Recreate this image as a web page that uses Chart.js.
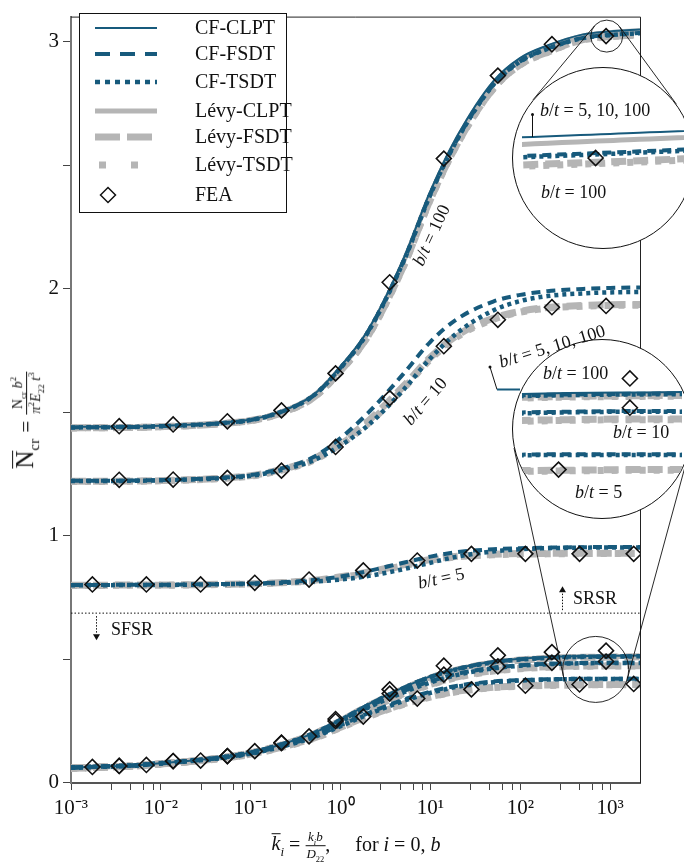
<!DOCTYPE html>
<html><head><meta charset="utf-8">
<script src="https://cdn.jsdelivr.net/npm/chart.js@4.4.0/dist/chart.umd.min.js"></script>
<style>
body{margin:0;width:684px;height:868px;overflow:hidden;background:#fff;position:relative;font-family:'Liberation Serif','Times New Roman',Times,serif;color:#111;}
#main{position:absolute;left:0;top:0;}
.inset{position:absolute;border:1px solid #111;border-radius:50%;overflow:hidden;background:#fff;z-index:1;}
.inset canvas{display:block;}
.t{position:absolute;white-space:nowrap;font-size:18px;line-height:1;z-index:2;}
.rot{transform:translate(-50%,-50%) rotate(var(--r));}
sub,sup{font-size:65%;line-height:0;}
.bar{display:inline-block;border-top:1.6px solid #111;line-height:0.85;padding-top:1px;}
.frac{display:inline-flex;flex-direction:column;vertical-align:middle;text-align:center;line-height:1.1;}
.frac .num{border-bottom:1px solid #111;padding:0 1px 1px;}
.frac .den{padding:1px 1px 0;}
</style>
</head><body>
<canvas id="main" width="684" height="868"></canvas>
<div id="inset1" class="inset" style="left:512px;top:67px;width:180px;height:180px;"><canvas id="c1" width="180" height="180"></canvas></div>
<div id="inset2" class="inset" style="left:512px;top:339px;width:178px;height:178px;"><canvas id="c2" width="178" height="178"></canvas></div>

<div class="t rot" style="left:431px;top:235px;--r:-65deg"><i>b</i>/<i>t</i> = 100</div>
<div class="t rot" style="left:425px;top:401px;--r:-49deg"><i>b</i>/<i>t</i> = 10</div>
<div class="t rot" style="left:441px;top:578px;--r:-12deg"><i>b</i>/<i>t</i> = 5</div>
<div class="t rot" style="left:552px;top:346px;--r:-17deg"><i>b</i>/<i>t</i> = 5, 10, 100</div>
<div class="t" style="left:111px;top:620px">SFSR</div>
<div class="t" style="left:573px;top:589px">SRSR</div>

<div class="t" style="left:540px;top:101px"><i>b</i>/<i>t</i> = 5, 10, 100</div>
<div class="t" style="left:541px;top:183px"><i>b</i>/<i>t</i> = 100</div>
<div class="t" style="left:543px;top:364px"><i>b</i>/<i>t</i> = 100</div>
<div class="t" style="left:613px;top:423px"><i>b</i>/<i>t</i> = 10</div>
<div class="t" style="left:575px;top:483px"><i>b</i>/<i>t</i> = 5</div>
<div style="position:absolute;left:531px;top:113px;width:3px;height:3px;border-radius:50%;background:#111;z-index:2"></div>
<div style="position:absolute;left:532px;top:114px;width:1px;height:23px;background:#111;z-index:2"></div>

<div class="t" style="left:27px;top:420px;transform:translate(-50%,-50%) rotate(-90deg);font-size:25px;">
<span class="bar">N</span><sub style="font-size:15px">cr</sub> <span style="font-size:21px">=</span> <span class="frac" style="font-size:14px"><span class="num">N<sub>cr</sub> <i>b</i><sup>2</sup></span><span class="den"><i>π</i><sup>2</sup><i>E</i><sub>22</sub> <i>t</i><sup>3</sup></span></span>
</div>
<div class="t" style="left:356px;top:846px;transform:translate(-50%,-50%);font-size:20px;">
<span class="bar"><i>k</i></span><sub><i>i</i></sub> = <span class="frac" style="font-size:13px"><span class="num"><i>k</i><sub><i>i</i></sub><i>b</i></span><span class="den"><i>D</i><sub>22</sub></span></span>,&nbsp;&nbsp;&nbsp;&nbsp; for <i>i</i> = 0, <i>b</i>
</div>

<script>
// ---------- axes ----------
const xMin = 0.001, xMax = 2150;
const yMin = -0.002, yMax = 3.102;
const majorTicks = [0.001, 0.01, 0.1, 1, 10, 100, 1000];
const majorTickLabels = ['10⁻³', '10⁻²', '10⁻¹', '10⁰', '10¹', '10²', '10³'];
const minorTickFactors = [2.8, 4.6, 6.4, 8.2];
const yTickValues = [0, 0.5, 1, 1.5, 2, 2.5, 3];
const yTickLabels = ['0', '', '1', '', '2', '', '3'];
const FONT = "'Liberation Serif', 'Times New Roman', Times, serif";

// ---------- curve abscissae ----------
const kGrid = [0.001, 0.002, 0.005, 0.01, 0.02, 0.05, 0.1, 0.2, 0.5, 1, 2, 5, 10, 20, 50, 100, 200, 500, 1000, 2150];

// ---------- SRSR ----------
const srsrCfClpt    = [1.440,1.441,1.442,1.445,1.449,1.458,1.470,1.498,1.570,1.685,1.830,2.120,2.395,2.620,2.840,2.935,2.985,3.030,3.042,3.050];
const srsrLvClpt    = [1.438,1.439,1.440,1.443,1.447,1.456,1.468,1.495,1.566,1.678,1.820,2.108,2.382,2.608,2.830,2.927,2.978,3.024,3.037,3.045];
const srsrCfFsdt100 = [1.438,1.439,1.440,1.443,1.447,1.456,1.468,1.496,1.567,1.680,1.823,2.110,2.383,2.607,2.826,2.921,2.972,3.016,3.028,3.036];
const srsrCfTsdt100 = [1.438,1.439,1.440,1.443,1.447,1.456,1.468,1.496,1.567,1.679,1.822,2.109,2.382,2.606,2.825,2.920,2.971,3.015,3.027,3.035];
const srsrLvFsdt100 = [1.436,1.437,1.438,1.441,1.445,1.454,1.466,1.492,1.560,1.668,1.806,2.090,2.362,2.588,2.810,2.908,2.958,3.009,3.021,3.029];
const srsrLvTsdt100 = [1.436,1.437,1.438,1.441,1.445,1.454,1.465,1.491,1.559,1.667,1.805,2.089,2.361,2.587,2.809,2.907,2.957,3.008,3.020,3.028];
const srsrCfFsdt10  = [1.222,1.222,1.223,1.225,1.228,1.235,1.245,1.268,1.318,1.395,1.495,1.655,1.785,1.878,1.948,1.975,1.990,1.999,2.003,2.005];
const srsrCfTsdt10  = [1.221,1.221,1.222,1.224,1.227,1.233,1.242,1.262,1.305,1.365,1.445,1.590,1.718,1.822,1.912,1.950,1.970,1.981,1.985,1.987];
const srsrLvFsdt10  = [1.220,1.220,1.221,1.223,1.226,1.233,1.243,1.264,1.310,1.378,1.462,1.605,1.722,1.812,1.880,1.908,1.924,1.932,1.935,1.936];
const srsrLvTsdt10  = [1.219,1.219,1.220,1.222,1.225,1.232,1.241,1.261,1.305,1.370,1.452,1.595,1.714,1.806,1.876,1.905,1.921,1.929,1.932,1.933];
const srsrCfFsdt5   = [0.800,0.800,0.801,0.801,0.802,0.804,0.806,0.810,0.820,0.834,0.856,0.890,0.915,0.933,0.945,0.949,0.951,0.953,0.954,0.954];
const srsrCfTsdt5   = [0.799,0.799,0.800,0.800,0.801,0.803,0.805,0.808,0.814,0.822,0.836,0.864,0.890,0.915,0.936,0.945,0.949,0.951,0.952,0.952];
const srsrLvFsdt5   = [0.799,0.799,0.800,0.800,0.801,0.803,0.805,0.809,0.819,0.833,0.852,0.882,0.903,0.916,0.924,0.927,0.928,0.929,0.929,0.929];
const srsrLvTsdt5   = [0.798,0.798,0.799,0.799,0.800,0.802,0.804,0.808,0.817,0.830,0.848,0.878,0.900,0.914,0.922,0.925,0.926,0.927,0.927,0.927];

// ---------- SFSR ----------
const sfsrCfClpt    = [0.060,0.064,0.069,0.078,0.087,0.103,0.122,0.150,0.200,0.255,0.315,0.385,0.430,0.462,0.490,0.501,0.508,0.512,0.513,0.514];
const sfsrLvClpt    = [0.058,0.062,0.067,0.076,0.085,0.101,0.120,0.148,0.197,0.251,0.311,0.380,0.425,0.458,0.486,0.498,0.505,0.509,0.510,0.511];
const sfsrCfFsdt100 = [0.060,0.064,0.069,0.078,0.087,0.103,0.122,0.150,0.199,0.254,0.313,0.383,0.428,0.460,0.488,0.499,0.506,0.510,0.511,0.512];
const sfsrCfTsdt100 = [0.060,0.064,0.069,0.078,0.087,0.103,0.122,0.149,0.199,0.253,0.312,0.382,0.427,0.459,0.487,0.498,0.505,0.509,0.510,0.511];
const sfsrLvFsdt100 = [0.058,0.062,0.067,0.076,0.085,0.101,0.120,0.147,0.196,0.250,0.309,0.378,0.423,0.456,0.484,0.496,0.503,0.507,0.508,0.509];
const sfsrLvTsdt100 = [0.058,0.062,0.067,0.076,0.085,0.101,0.120,0.147,0.195,0.249,0.308,0.377,0.422,0.455,0.483,0.495,0.502,0.506,0.507,0.508];
const sfsrCfFsdt10  = [0.060,0.064,0.069,0.078,0.087,0.103,0.121,0.149,0.197,0.250,0.306,0.370,0.410,0.440,0.465,0.475,0.481,0.484,0.485,0.485];
const sfsrCfTsdt10  = [0.060,0.064,0.069,0.078,0.087,0.102,0.120,0.148,0.195,0.247,0.302,0.365,0.405,0.436,0.462,0.473,0.479,0.483,0.484,0.484];
const sfsrLvFsdt10  = [0.058,0.062,0.067,0.076,0.085,0.101,0.119,0.146,0.193,0.245,0.299,0.360,0.398,0.428,0.453,0.463,0.469,0.472,0.473,0.473];
const sfsrLvTsdt10  = [0.058,0.062,0.067,0.076,0.085,0.100,0.118,0.145,0.192,0.243,0.297,0.357,0.396,0.426,0.451,0.461,0.467,0.471,0.472,0.472];
const sfsrCfFsdt5   = [0.060,0.064,0.069,0.077,0.086,0.101,0.118,0.143,0.186,0.232,0.280,0.335,0.368,0.392,0.409,0.415,0.418,0.420,0.420,0.420];
const sfsrCfTsdt5   = [0.060,0.064,0.069,0.077,0.086,0.100,0.117,0.141,0.183,0.228,0.275,0.330,0.363,0.388,0.406,0.413,0.417,0.419,0.419,0.419];
const sfsrLvFsdt5   = [0.058,0.062,0.067,0.075,0.084,0.099,0.115,0.139,0.180,0.224,0.268,0.318,0.348,0.370,0.386,0.392,0.395,0.396,0.397,0.397];
const sfsrLvTsdt5   = [0.058,0.062,0.067,0.075,0.084,0.098,0.114,0.138,0.178,0.222,0.266,0.316,0.346,0.368,0.384,0.390,0.393,0.395,0.396,0.396];

// ---------- FEA ----------
const feaKA = [0.00344, 0.0137, 0.055, 0.22, 0.88, 3.52, 14.1, 56.3, 225, 901];
const feaKB = [0.00173, 0.0069, 0.0277, 0.111, 0.446, 1.79, 7.14, 28.6, 114, 457, 1830];
const feaSrsr100 = [1.443,1.450,1.463,1.507,1.657,2.026,2.527,2.863,2.990,3.023];
const feaSrsr10  = [1.226,1.227,1.234,1.263,1.359,1.557,1.767,1.874,1.925,1.930];
const feaSrsr5   = [0.802,0.802,0.802,0.809,0.822,0.859,0.899,0.926,0.926,0.926,0.926];
const feaSfsr100 = [0.067,0.087,0.107,0.160,0.257,0.377,0.473,0.515,0.528,0.534];
const feaSfsr10  = [0.067,0.087,0.107,0.162,0.249,0.360,0.437,0.470,0.485,0.490];
const feaSfsr5   = [0.063,0.071,0.089,0.127,0.187,0.267,0.340,0.377,0.392,0.397,0.399];

// ---------- separator SFSR / SRSR ----------
const sepK = [0.001, 2150];
const sepN = [0.686, 0.686];
const arrowK = [0.0019, 291];

// ---------- zoom windows ----------
const zoomK = [917, 691];
const zoomN = [3.023, 0.458];

const legendLabels = ['CF-CLPT', 'CF-FSDT', 'CF-TSDT', 'Lévy-CLPT', 'Lévy-FSDT', 'Lévy-TSDT', 'FEA'];

// ---------- styles ----------
const TEAL = '#175a7c', GRAY = '#b5b5b5';
const S = {
  cfClpt: {c: TEAL, w: 2,   d: [],     o: 1},
  cfFsdt: {c: TEAL, w: 4,   d: [9, 6], o: 2},
  cfTsdt: {c: TEAL, w: 4.5, d: [4, 4], o: 2},
  lvClpt: {c: GRAY, w: 5,   d: [],     o: 3},
  lvFsdt: {c: GRAY, w: 7,   d: [15, 7], o: 3},
  lvTsdt: {c: GRAY, w: 7,   d: [6, 8], o: 3}
};
const curves = [
  ['Lévy-CLPT','lvClpt',srsrLvClpt],['Lévy-FSDT','lvFsdt',srsrLvFsdt100],['Lévy-TSDT','lvTsdt',srsrLvTsdt100],
  ['Lévy-FSDT','lvFsdt',srsrLvFsdt10],['Lévy-TSDT','lvTsdt',srsrLvTsdt10],
  ['Lévy-FSDT','lvFsdt',srsrLvFsdt5],['Lévy-TSDT','lvTsdt',srsrLvTsdt5],
  ['Lévy-CLPT','lvClpt',sfsrLvClpt],['Lévy-FSDT','lvFsdt',sfsrLvFsdt100],['Lévy-TSDT','lvTsdt',sfsrLvTsdt100],
  ['Lévy-FSDT','lvFsdt',sfsrLvFsdt10],['Lévy-TSDT','lvTsdt',sfsrLvTsdt10],
  ['Lévy-FSDT','lvFsdt',sfsrLvFsdt5],['Lévy-TSDT','lvTsdt',sfsrLvTsdt5],
  ['CF-FSDT','cfFsdt',srsrCfFsdt100],['CF-TSDT','cfTsdt',srsrCfTsdt100],
  ['CF-FSDT','cfFsdt',srsrCfFsdt10],['CF-TSDT','cfTsdt',srsrCfTsdt10],
  ['CF-FSDT','cfFsdt',srsrCfFsdt5],['CF-TSDT','cfTsdt',srsrCfTsdt5],
  ['CF-FSDT','cfFsdt',sfsrCfFsdt100],['CF-TSDT','cfTsdt',sfsrCfTsdt100],
  ['CF-FSDT','cfFsdt',sfsrCfFsdt10],['CF-TSDT','cfTsdt',sfsrCfTsdt10],
  ['CF-FSDT','cfFsdt',sfsrCfFsdt5],['CF-TSDT','cfTsdt',sfsrCfTsdt5],
  ['CF-CLPT','cfClpt',srsrCfClpt],['CF-CLPT','cfClpt',sfsrCfClpt]
];
const feaSets = [[feaKA,feaSrsr100],[feaKA,feaSrsr10],[feaKB,feaSrsr5],[feaKA,feaSfsr100],[feaKA,feaSfsr10],[feaKB,feaSfsr5]];

function buildDatasets(withSep) {
  const ds = [];
  curves.forEach(([label, st, arr]) => {
    const s = S[st];
    ds.push({label, data: kGrid.map((k, i) => ({x: k, y: arr[i]})), borderColor: s.c, borderWidth: s.w,
      borderDash: s.d, borderCapStyle: 'butt', pointRadius: 0, fill: false, order: s.o,
      cubicInterpolationMode: 'monotone'});
  });
  feaSets.forEach(([ks, arr]) => {
    ds.push({label: 'FEA', data: ks.map((k, i) => ({x: k, y: arr[i]})), showLine: false,
      pointStyle: 'rectRot', pointRadius: 7.5, pointBorderWidth: 1.6, pointBorderColor: '#111',
      pointBackgroundColor: 'rgba(0,0,0,0)', order: 0});
  });
  if (withSep) {
    ds.push({label: 'sep', data: sepK.map((k, i) => ({x: k, y: sepN[i]})), borderColor: '#111', borderWidth: 1,
      borderDash: [1.5, 2], pointRadius: 0, order: 4});
  }
  return ds;
}

// tick lists
const xTickList = [];
majorTicks.forEach((m, i) => {
  xTickList.push({value: m, label: majorTickLabels[i]});
  minorTickFactors.forEach(f => { if (m * f <= xMax) xTickList.push({value: m * f, label: ''}); });
});

const legendSym = [
  {st: 'cfClpt', d: [], x1: 95, x2: 157},
  {st: 'cfFsdt', d: [15, 10], x1: 95, x2: 157},
  {st: 'cfTsdt', d: [5, 5], x1: 95, x2: 157},
  {st: 'lvClpt', d: [], x1: 95, x2: 157},
  {st: 'lvFsdt', d: [25, 7], x1: 95, x2: 152},
  {st: 'lvTsdt', d: [7, 25], x1: 99, x2: 140},
  {st: 'fea'}
];
const legendRows = [28, 54, 82, 111, 137, 165, 195];
const bigCenters = [[603, 158], [602, 429]];
const bigR = [91, 90];
const zoomR = [16, 33];

const decor = {
  id: 'decor',
  afterDraw(chart) {
    const {ctx, chartArea: a} = chart;
    const x = chart.scales.x, y = chart.scales.y;
    ctx.save();
    ctx.setLineDash([]);
    ctx.strokeStyle = '#222'; ctx.lineWidth = 1;
    ctx.beginPath(); ctx.moveTo(a.left, a.top + 0.5); ctx.lineTo(a.right + 0.5, a.top + 0.5); ctx.lineTo(a.right + 0.5, a.bottom); ctx.stroke();
    // zoom circles & tangent lines
    ctx.strokeStyle = '#111'; ctx.lineWidth = 0.9;
    zoomK.forEach((k, i) => {
      const cx = x.getPixelForValue(k), cy = y.getPixelForValue(zoomN[i]), r1 = zoomR[i];
      const C2 = bigCenters[i], r2 = bigR[i];
      ctx.beginPath(); ctx.arc(cx, cy, r1, 0, 2 * Math.PI); ctx.stroke();
      const dx = C2[0] - cx, dy = C2[1] - cy, d = Math.hypot(dx, dy), ux = dx / d, uy = dy / d;
      const c = (r1 - r2) / d, s = Math.sqrt(1 - c * c);
      [1, -1].forEach(sg => {
        const nx = c * ux - sg * s * uy, ny = c * uy + sg * s * ux;
        ctx.beginPath(); ctx.moveTo(cx + r1 * nx, cy + r1 * ny); ctx.lineTo(C2[0] + r2 * nx, C2[1] + r2 * ny); ctx.stroke();
      });
    });
    // arrows SFSR (down) / SRSR (up)
    const ys = y.getPixelForValue(sepN[0]);
    [[arrowK[0], 1], [arrowK[1], -1]].forEach(([k, dir]) => {
      const ax = Math.round(x.getPixelForValue(k)) + 0.5;
      const y0 = ys + dir * 3, y1 = ys + dir * 21;
      ctx.setLineDash([1.5, 1.5]); ctx.lineWidth = 1; ctx.strokeStyle = '#111';
      ctx.beginPath(); ctx.moveTo(ax, y0); ctx.lineTo(ax, y1); ctx.stroke();
      ctx.setLineDash([]); ctx.fillStyle = '#111';
      ctx.beginPath(); ctx.moveTo(ax - 3.5, y1); ctx.lineTo(ax + 3.5, y1); ctx.lineTo(ax, y1 + dir * 6); ctx.closePath(); ctx.fill();
    });
    // leader for "b/t = 5, 10, 100"
    ctx.setLineDash([]); ctx.lineWidth = 1; ctx.strokeStyle = '#111';
    ctx.beginPath(); ctx.arc(490, 367, 1.5, 0, 2 * Math.PI); ctx.fillStyle = '#111'; ctx.fill();
    ctx.beginPath(); ctx.moveTo(490, 367); ctx.lineTo(497, 389.5); ctx.stroke();
    ctx.strokeStyle = TEAL; ctx.lineWidth = 2;
    ctx.beginPath(); ctx.moveTo(497, 389.5); ctx.lineTo(520, 389.5); ctx.stroke();
    // legend
    ctx.fillStyle = '#fff'; ctx.strokeStyle = '#111'; ctx.lineWidth = 1;
    ctx.fillRect(79.5, 13.5, 207, 199); ctx.strokeRect(79.5, 13.5, 207, 199);
    legendSym.forEach((L, i) => {
      const yy = legendRows[i];
      if (L.st === 'fea') {
        ctx.setLineDash([]); ctx.strokeStyle = '#111'; ctx.lineWidth = 1.5;
        ctx.beginPath(); ctx.moveTo(100.5, yy); ctx.lineTo(108, yy - 7.5); ctx.lineTo(115.5, yy); ctx.lineTo(108, yy + 7.5); ctx.closePath(); ctx.stroke();
      } else {
        const s = S[L.st];
        ctx.strokeStyle = s.c; ctx.lineWidth = s.w; ctx.setLineDash(L.d); ctx.lineCap = 'butt';
        ctx.beginPath(); ctx.moveTo(L.x1, yy); ctx.lineTo(L.x2, yy); ctx.stroke();
      }
      ctx.setLineDash([]);
      ctx.fillStyle = '#111'; ctx.font = "20px " + FONT; ctx.textBaseline = 'middle'; ctx.textAlign = 'left';
      ctx.fillText(legendLabels[i], 195, yy + 1);
    });
    ctx.restore();
  }
};

const mainChart = new Chart(document.getElementById('main'), {
  type: 'line',
  data: {datasets: buildDatasets(true)},
  options: {
    responsive: false, animation: false, devicePixelRatio: 1,
    layout: {padding: {top: 7, right: 44, left: 0, bottom: 0}},
    plugins: {legend: {display: false}, tooltip: {enabled: false}},
    scales: {
      x: {
        type: 'logarithmic', min: xMin, max: xMax,
        afterBuildTicks: s => { s.ticks = xTickList.map(t => ({value: t.value})); },
        afterFit: s => { s.height = 85; },
        ticks: {autoSkip: false, maxRotation: 0, minRotation: 0, padding: 6, color: '#111',
          font: {family: FONT, size: 21},
          callback: (v, i) => xTickList[i] ? xTickList[i].label : ''},
        grid: {display: true, drawOnChartArea: false, drawTicks: true, tickLength: 7, color: '#444'},
        border: {display: true, color: '#555', width: 2}
      },
      y: {
        type: 'linear', min: yMin, max: yMax,
        afterBuildTicks: s => { s.ticks = yTickValues.map(v => ({value: v})); },
        afterFit: s => { s.width = 71; },
        ticks: {autoSkip: false, padding: 4, color: '#111', font: {family: FONT, size: 21},
          callback: (v, i) => yTickLabels[i]},
        grid: {display: true, drawOnChartArea: false, drawTicks: true, tickLength: 8, color: '#444'},
        border: {display: true, color: '#777', width: 2}
      }
    }
  },
  plugins: [decor]
});

// ---------- magnified insets ----------
const insetCfg = [
  {id: 'c1', size: 180, k: zoomK[0], n: zoomN[0], magX: 12, magY: 6},
  {id: 'c2', size: 178, k: zoomK[1], n: zoomN[1], magX: 3, magY: 3}
];
const sx = mainChart.scales.x, sy = mainChart.scales.y;
const decPx = sx.getPixelForValue(10) - sx.getPixelForValue(1);
const unitPx = sy.getPixelForValue(0) - sy.getPixelForValue(1);
insetCfg.forEach(cfg => {
  const lc = Math.log10(cfg.k);
  const hx = (cfg.size / 2) / (decPx * cfg.magX);
  const hy = (cfg.size / 2) / (unitPx * cfg.magY);
  new Chart(document.getElementById(cfg.id), {
    type: 'line',
    data: {datasets: buildDatasets(false)},
    options: {
      responsive: false, animation: false, devicePixelRatio: 1,
      layout: {padding: 0},
      plugins: {legend: {display: false}, tooltip: {enabled: false}},
      scales: {
        x: {type: 'logarithmic', display: false, min: Math.pow(10, lc - hx), max: Math.pow(10, lc + hx)},
        y: {type: 'linear', display: false, min: cfg.n - hy, max: cfg.n + hy}
      }
    }
  });
});
</script>
</body></html>
